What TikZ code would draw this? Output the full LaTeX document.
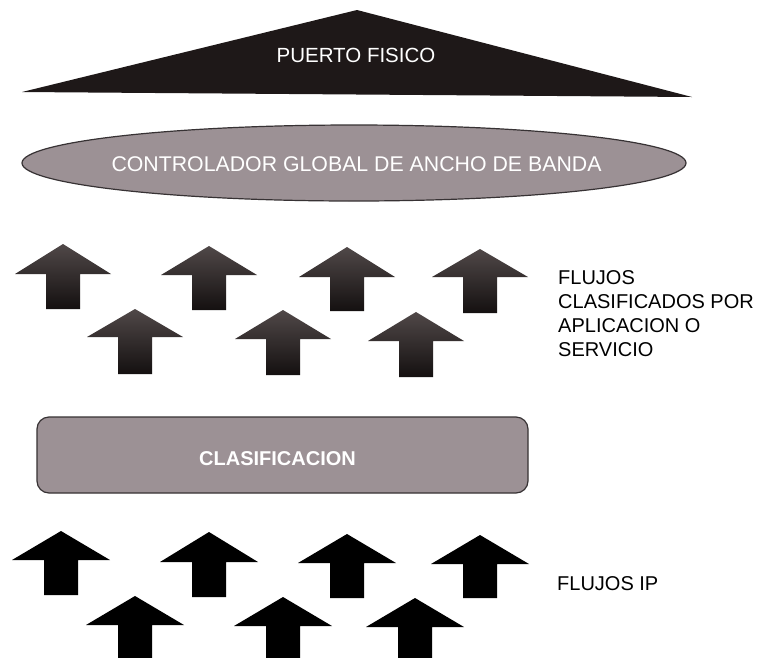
\documentclass[tikz,border=0pt]{standalone}
\usepackage{fontspec}
\setmainfont{Liberation Sans}
\usetikzlibrary{shapes.geometric}
\definecolor{mauve}{RGB}{156,145,149}
\definecolor{edgegray}{RGB}{55,50,52}
\definecolor{arrtop}{RGB}{80,72,72}
\definecolor{arrbot}{RGB}{20,16,16}
\definecolor{trifill}{RGB}{30,24,24}
\tikzset{
  whitetxt/.style={text=white, inner sep=0pt},
  sidetxt/.style={text=black, anchor=north west, align=left, inner sep=0pt, font=\fontsize{20}{24}\selectfont},
  shadedarrow/.style={top color=arrtop, bottom color=arrbot, draw=none},
  blackarrow/.style={fill=black, draw=none},
}
\begin{document}
\begin{tikzpicture}[x=1pt,y=-1pt]
\useasboundingbox (0,0) rectangle (764,657);
\fill[white] (0,0) rectangle (764,657);
% triangle
\fill[trifill] (357,10) -- (692,97) -- (22,92) -- cycle;
\node[whitetxt, font=\fontsize{20.5}{24}\selectfont] (pf) at (356,55.5) {PUERTO FISICO};
% ellipse
\node[ellipse, draw=edgegray, line width=1.2pt, fill=mauve, minimum width=664pt, minimum height=76pt, inner sep=0pt] (ctl) at (354,163) {};
\node[whitetxt, font=\fontsize{21.3}{24}\selectfont] (ctltxt) at (356.5,164.5) {CONTROLADOR GLOBAL DE ANCHO DE BANDA};
% shaded arrows: cx, apex, headbase, bottom
\foreach \cx/\ay/\by/\sy [count=\i] in {63/244/274/309, 209/246/275/310, 347/247/277/311, 480/249/277/313, 135/309/337/374, 283/310/339/375, 416/312/341/377}{
  \path[shadedarrow] (\cx,\ay) -- (\cx+48,\by) -- (\cx+17,\by) -- (\cx+17,\sy) -- (\cx-17,\sy) -- (\cx-17,\by) -- (\cx-48,\by) -- cycle;
  \coordinate (sa\i) at (\cx,\ay);
}
% clasificacion box
\node[draw=edgegray, line width=1.2pt, fill=mauve, rounded corners=12pt, minimum width=491pt, minimum height=76pt, inner sep=0pt] (cls) at (282.5,455) {};
\node[whitetxt, font=\bfseries\fontsize{20}{24}\selectfont] (clstxt) at (277.5,459) {CLASIFICACION};
% black arrows
\foreach \cx/\ay/\by/\sy [count=\i] in {61/531/560/595, 209/532/562/597, 347/534/563/598, 480/535/564/598, 135/596/625/660, 283/597/626/660, 415/598/627/660}{
  \path[blackarrow] (\cx,\ay) -- (\cx+49,\by) -- (\cx+17,\by) -- (\cx+17,\sy) -- (\cx-17,\sy) -- (\cx-17,\by) -- (\cx-49,\by) -- cycle;
  \coordinate (ba\i) at (\cx,\ay);
}
% side labels
\node[sidetxt] (lab1) at (558,270) {FLUJOS\\CLASIFICADOS POR\\APLICACION O\\SERVICIO};
\node[sidetxt, anchor=west] (lab2) at (557,584) {FLUJOS IP};
\end{tikzpicture}
\end{document}
